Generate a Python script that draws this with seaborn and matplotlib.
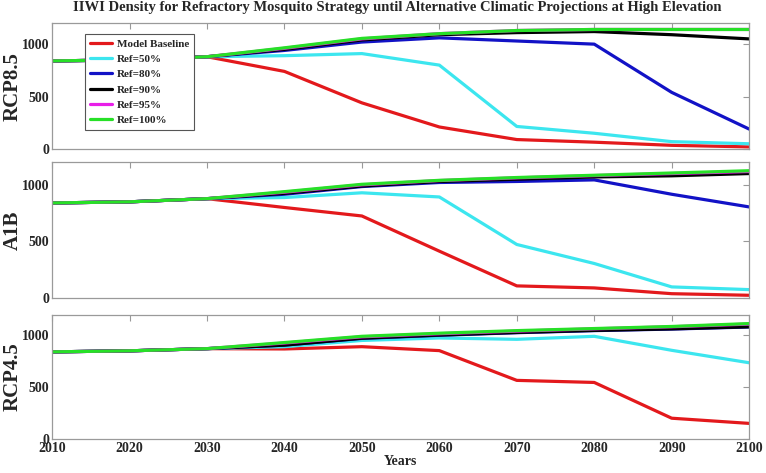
import pandas as pd
import matplotlib
matplotlib.use("Agg")
import matplotlib.pyplot as plt
import seaborn as sns

# === Data ===
years = [2010, 2020, 2030, 2040, 2050, 2060, 2070, 2080, 2090, 2100]
series_names = ["Model Baseline", "Ref=50%", "Ref=80%", "Ref=90%", "Ref=95%", "Ref=100%"]
colors = ["#e3191c", "#3ce6ef", "#1212c6", "#000000", "#e81ee8", "#27e027"]

rcp85 = {
    "Model Baseline": [840, 850, 880, 740, 440, 210, 90, 65, 35, 20],
    "Ref=50%": [840, 850, 880, 890, 910, 800, 215, 150, 70, 50],
    "Ref=80%": [840, 850, 880, 940, 1020, 1060, 1030, 1000, 540, 190],
    "Ref=90%": [840, 850, 880, 950, 1040, 1090, 1110, 1120, 1090, 1050],
    "Ref=95%": [840, 850, 880, 960, 1050, 1100, 1130, 1140, 1140, 1140],
    "Ref=100%": [840, 850, 880, 965, 1055, 1100, 1130, 1140, 1140, 1140],
}
a1b = {
    "Model Baseline": [840, 850, 878, 800, 725, 414, 107, 89, 38, 24],
    "Ref=50%": [840, 850, 878, 888, 930, 893, 473, 305, 98, 74],
    "Ref=80%": [840, 850, 878, 917, 985, 1021, 1030, 1044, 917, 805],
    "Ref=90%": [840, 850, 878, 925, 990, 1030, 1050, 1070, 1080, 1100],
    "Ref=95%": [840, 850, 878, 935, 1000, 1038, 1062, 1082, 1100, 1118],
    "Ref=100%": [840, 850, 878, 940, 1005, 1040, 1065, 1085, 1105, 1125],
}
rcp45 = {
    "Model Baseline": [840, 850, 871, 868, 890, 852, 565, 545, 200, 150],
    "Ref=50%": [840, 850, 871, 890, 950, 974, 961, 990, 855, 735],
    "Ref=80%": [840, 850, 871, 905, 970, 1000, 1025, 1045, 1060, 1080],
    "Ref=90%": [840, 850, 871, 905, 972, 1002, 1027, 1047, 1062, 1082],
    "Ref=95%": [840, 850, 871, 925, 985, 1015, 1040, 1062, 1082, 1108],
    "Ref=100%": [840, 850, 871, 930, 990, 1020, 1045, 1065, 1085, 1113],
}
panels = [("RCP8.5", rcp85), ("A1B", a1b), ("RCP4.5", rcp45)]

sns.set_style("white")
plt.rcParams["font.family"] = ["Liberation Serif", "DejaVu Serif"]
plt.rcParams["font.weight"] = "bold"

fig = plt.figure(figsize=(7.66, 4.73), dpi=100)
# axes boxes in figure fraction (left, bottom, width, height)
boxes = [
    [0.068, 0.685, 0.910, 0.266],
    [0.068, 0.370, 0.910, 0.287],
    [0.068, 0.072, 0.910, 0.263],
]
palette = dict(zip(series_names, colors))

for k, (label, data) in enumerate(panels):
    ax = fig.add_axes(boxes[k])
    rows = []
    for name in series_names:
        for yr, v in zip(years, data[name]):
            rows.append({"Year": yr, "Value": v, "Series": name})
    df = pd.DataFrame(rows)
    sns.lineplot(data=df, x="Year", y="Value", hue="Series", hue_order=series_names,
                 palette=palette, linewidth=2.3, ax=ax, legend=(k == 0))

    ax.set_xlim(2010, 2100)
    ax.set_ylim(0, 1200)
    ax.set_xticks(years)
    ax.set_yticks([0, 500, 1000])
    ax.tick_params(direction="in", top=True, right=True, length=4, width=0.8,
                   color="#999999", labelsize=10, pad=2)
    for s in ax.spines.values():
        s.set_color("#9a9a9a")
        s.set_linewidth(0.9)
    ax.set_ylabel(label, fontsize=15, fontweight="bold")
    ax.yaxis.set_label_coords(-0.042, 0.5)
    if k < 2:
        ax.set_xticklabels([])
        ax.set_xlabel("")
    else:
        ax.set_xlabel("Years", fontsize=10, fontweight="bold", labelpad=0)
    for t in ax.get_xticklabels() + ax.get_yticklabels():
        t.set_fontweight("bold")

    if k == 0:
        leg = ax.legend(loc="upper left", bbox_to_anchor=(0.047, 0.915), borderaxespad=0,
                        fontsize=8, frameon=True, fancybox=False, framealpha=1,
                        handlelength=2.0, borderpad=0.45, labelspacing=0.5,
                        handletextpad=0.4)
        leg.get_frame().set_edgecolor("#555555")
        leg.get_frame().set_linewidth(0.8)
        for line in leg.get_lines():
            line.set_linewidth(2.3)
        for t in leg.get_texts():
            t.set_fontweight("bold")

fig.suptitle("IIWI Density for Refractory Mosquito Strategy until Alternative Climatic Projections at High Elevation",
             x=0.518, y=0.997, fontsize=10.5, fontweight="bold")

fig.savefig("out.png", dpi=100)
